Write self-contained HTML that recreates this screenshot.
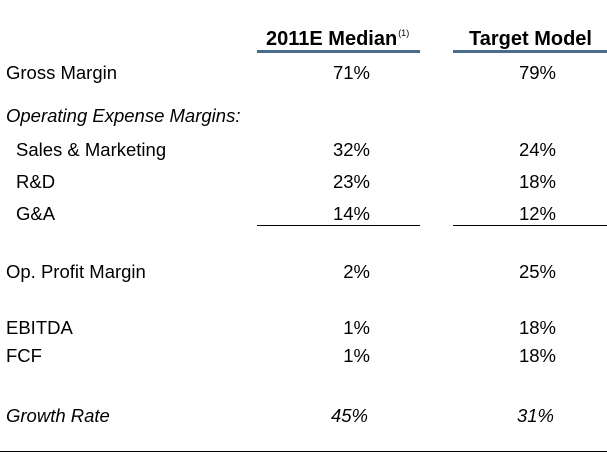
<!DOCTYPE html>
<html><head><meta charset="utf-8"><style>
body{margin:0;width:607px;height:454px;background:#fff;position:relative;overflow:hidden;font-family:"Liberation Sans",Arial,sans-serif;font-size:18.5px;color:#000}
.t{position:absolute;line-height:20px;white-space:nowrap}
.l{left:6px}
.in{left:16px}
.v1{right:237px;text-align:right}
.v2{right:51px;text-align:right}
.i{font-style:italic}
.h{font-weight:bold;font-size:20px}
.line{position:absolute;background:#000}
.sup{font-size:9px;font-weight:normal;position:relative;top:-9px;margin-left:1px}
</style></head><body>
<div class="t h" style="left:266px;top:29px">2011E Median<span class="sup">(1)</span></div>
<div class="t h" style="left:469px;top:29px">Target Model</div>
<div class="line" style="left:257px;top:50px;width:163px;height:3px;background:#4a6b8c"></div>
<div class="line" style="left:453px;top:50px;width:154px;height:3px;background:#4a6b8c"></div>

<div class="t l" style="top:63px">Gross Margin</div>
<div class="t v1" style="top:63px">71%</div>
<div class="t v2" style="top:63px">79%</div>

<div class="t l i" style="top:106px">Operating Expense Margins:</div>

<div class="t in" style="top:140px">Sales &amp; Marketing</div>
<div class="t v1" style="top:140px">32%</div>
<div class="t v2" style="top:140px">24%</div>

<div class="t in" style="top:172px">R&amp;D</div>
<div class="t v1" style="top:172px">23%</div>
<div class="t v2" style="top:172px">18%</div>

<div class="t in" style="top:204px">G&amp;A</div>
<div class="t v1" style="top:204px">14%</div>
<div class="t v2" style="top:204px">12%</div>
<div class="line" style="left:257px;top:225px;width:163px;height:1px"></div>
<div class="line" style="left:453px;top:225px;width:154px;height:1px"></div>

<div class="t l" style="top:262px">Op. Profit Margin</div>
<div class="t v1" style="top:262px">2%</div>
<div class="t v2" style="top:262px">25%</div>

<div class="t l" style="top:318px">EBITDA</div>
<div class="t v1" style="top:318px">1%</div>
<div class="t v2" style="top:318px">18%</div>

<div class="t l" style="top:346px">FCF</div>
<div class="t v1" style="top:346px">1%</div>
<div class="t v2" style="top:346px">18%</div>

<div class="t l i" style="top:406px">Growth Rate</div>
<div class="t v1 i" style="top:406px;right:239px">45%</div>
<div class="t v2 i" style="top:406px;right:53px">31%</div>

<div class="line" style="left:0;top:451px;width:607px;height:1px"></div>
</body></html>
